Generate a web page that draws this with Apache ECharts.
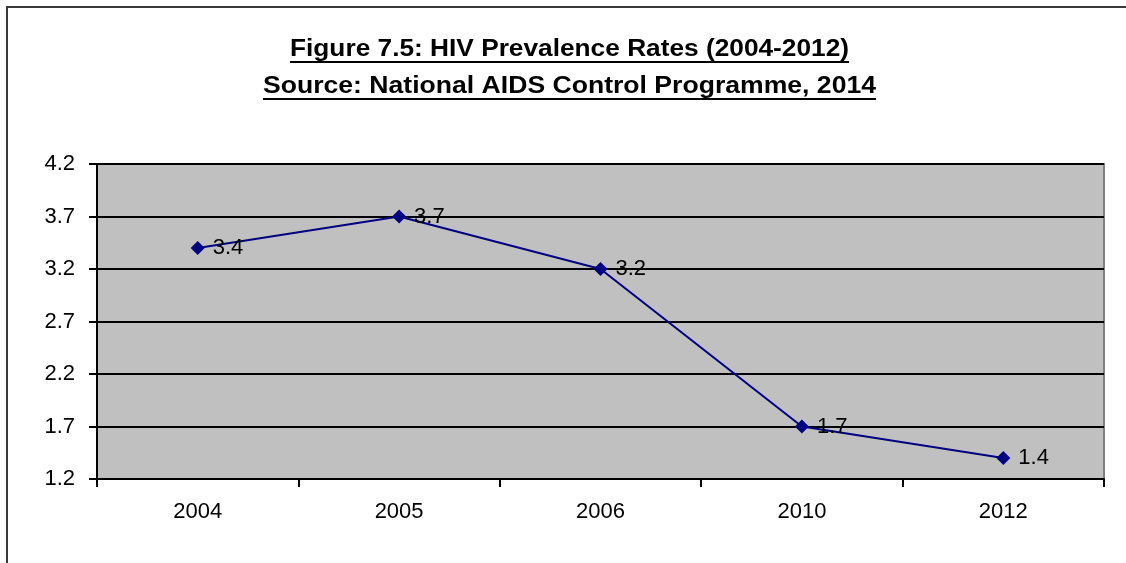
<!DOCTYPE html>
<html>
<head>
<meta charset="utf-8">
<script src="https://cdn.jsdelivr.net/npm/echarts@6/dist/echarts.min.js"></script>
<style>
  html, body { margin: 0; padding: 0; background: #ffffff; }
  #chart { width: 1126px; height: 563px; }
</style>
</head>
<body>
<div id="chart"></div>
<script>
// Survey years and prevalence rates (%)
const years = ['2004', '2005', '2006', '2010', '2012'];
const prevalence = [3.4, 3.7, 3.2, 1.7, 1.4];
// Value-axis tick positions
const yTicks = [1.2, 1.7, 2.2, 2.7, 3.2, 3.7, 4.2];
// Heading lines
const titleLines = [
  'Figure 7.5: HIV Prevalence Rates (2004-2012)',
  'Source: National AIDS Control Programme, 2014'
];

const FONT = 'Arial, "Liberation Sans", sans-serif';
const chart = echarts.init(document.getElementById('chart'), null, { renderer: 'canvas' });

// Heading is stretched to the intended width of each line
const measureCtx = document.createElement('canvas').getContext('2d');
measureCtx.font = 'bold 23px ' + FONT;
const headingCenter = 569.5;
const headingWidths = [559, 613];
const headingY = [50, 87];
const underlineY = [62, 99];

const headingGraphics = [];
titleLines.forEach(function (line, i) {
  const w = measureCtx.measureText(line).width;
  headingGraphics.push({
    type: 'text',
    x: headingCenter,
    y: headingY[i],
    scaleX: headingWidths[i] / w,
    style: {
      text: line,
      fill: '#000',
      font: 'bold 23px ' + FONT,
      align: 'center',
      verticalAlign: 'middle'
    },
    z: 10
  });
  headingGraphics.push({
    type: 'line',
    shape: {
      x1: headingCenter - headingWidths[i] / 2,
      y1: underlineY[i],
      x2: headingCenter + headingWidths[i] / 2,
      y2: underlineY[i]
    },
    style: { stroke: '#000', lineWidth: 2 },
    z: 10
  });
});

const option = {
  backgroundColor: '#ffffff',
  animation: false,
  graphic: [
    {
      type: 'rect',
      shape: { x: 7, y: 7, width: 1300, height: 700 },
      style: { fill: 'none', stroke: '#3a3a3a', lineWidth: 2 },
      z: -1
    }
  ].concat(headingGraphics),
  grid: {
    left: 97,
    right: 22,
    top: 164,
    bottom: 84,
    show: true,
    backgroundColor: '#c0c0c0',
    borderColor: '#808080',
    borderWidth: 2
  },
  xAxis: {
    type: 'category',
    data: years,
    boundaryGap: true,
    axisLine: { show: true, lineStyle: { color: '#000', width: 2 } },
    axisTick: { show: true, alignWithLabel: false, length: 8, lineStyle: { color: '#000', width: 2 } },
    axisLabel: { color: '#000', fontSize: 22, fontFamily: FONT, margin: 22 },
    splitLine: { show: false }
  },
  yAxis: {
    type: 'value',
    min: 1.2,
    max: 4.2,
    axisLine: { show: true, lineStyle: { color: '#000', width: 2 } },
    axisTick: { show: true, length: 8, customValues: yTicks, lineStyle: { color: '#000', width: 2 } },
    axisLabel: {
      customValues: yTicks,
      color: '#000',
      fontSize: 22,
      fontFamily: FONT,
      margin: 22,
      formatter: function (v) { return v.toFixed(1); }
    },
    splitLine: { show: true, lineStyle: { color: '#000', width: 2 } }
  },
  series: [
    {
      type: 'line',
      data: prevalence,
      symbol: 'diamond',
      symbolSize: 14,
      itemStyle: { color: '#000080' },
      lineStyle: { color: '#000080', width: 2 },
      label: {
        show: true,
        position: 'right',
        distance: 8,
        color: '#000',
        fontSize: 22,
        fontFamily: FONT,
        formatter: function (p) { return p.value.toFixed(1); }
      },
      z: 5
    }
  ]
};

chart.setOption(option);
</script>
</body>
</html>
